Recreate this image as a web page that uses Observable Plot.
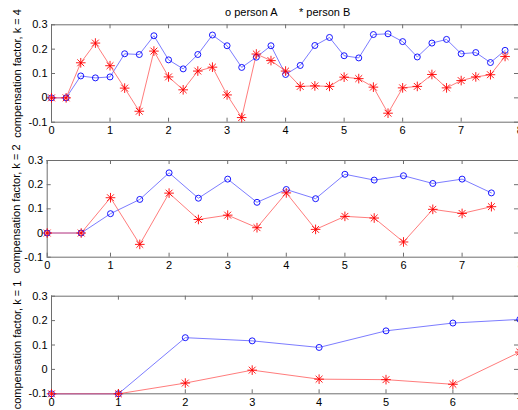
<!DOCTYPE html>
<html><head><meta charset="utf-8">
<script src="https://cdn.jsdelivr.net/npm/d3@7"></script>
<script src="https://cdn.jsdelivr.net/npm/@observablehq/plot@0.6"></script>
<style>
body{margin:0;background:#fff;}
#wrap{position:relative;width:518px;height:410px;overflow:hidden;font-family:"Liberation Sans",Arial,sans-serif;background:#fff;}
.panel{position:absolute;left:0;}
.leg{position:absolute;top:5px;font-size:11px;line-height:14px;white-space:pre;color:#000;z-index:5;}
</style></head><body>
<div id="wrap"></div>
<script>
// ---- data ----
const legendLabels = ["o person A", "* person B"];
const yAxisLabels = ["compensation factor, k = 4", "compensation factor, k = 2", "compensation factor, k = 1"];
const yTickValues = [-0.1, 0, 0.1, 0.2, 0.3];
const yTickLabels = ["-0.1", "0", "0.1", "0.2", "0.3"];
const xTicksK4 = [0, 1, 2, 3, 4, 5, 6, 7, 8];
const xTicksK2 = [0, 1, 2, 3, 4, 5, 6, 7, 8];
const xTicksK1 = [0, 1, 2, 3, 4, 5, 6, 7];

const xK4 = [0,0.25,0.5,0.75,1,1.25,1.5,1.75,2,2.25,2.5,2.75,3,3.25,3.5,3.75,4,4.25,4.5,4.75,5,5.25,5.5,5.75,6,6.25,6.5,6.75,7,7.25,7.5,7.75];
const aK4 = [0,0,0.090,0.082,0.086,0.181,0.178,0.255,0.156,0.119,0.178,0.258,0.214,0.125,0.167,0.214,0.096,0.133,0.215,0.248,0.173,0.164,0.260,0.263,0.231,0.168,0.225,0.240,0.181,0.186,0.145,0.195];
const bK4 = [0,0,0.144,0.225,0.132,0.040,-0.055,0.192,0.086,0.033,0.110,0.126,0.012,-0.081,0.180,0.153,0.110,0.047,0.049,0.047,0.085,0.079,0.044,-0.063,0.041,0.047,0.096,0.041,0.071,0.086,0.095,0.170];

const xK2 = [0,0.5,1,1.5,2,2.5,3,3.5,4,4.5,5,5.5,6,6.5,7,7.5];
const aK2 = [0,0,0.080,0.139,0.249,0.144,0.223,0.127,0.180,0.142,0.243,0.219,0.237,0.205,0.223,0.166];
const bK2 = [0,0,0.146,-0.047,0.165,0.056,0.074,0.022,0.166,0.015,0.069,0.062,-0.037,0.098,0.081,0.109];

const xK1 = [0,1,2,3,4,5,6,7];
const aK1 = [-0.1,-0.1,0.130,0.117,0.090,0.158,0.190,0.205];
const bK1 = [-0.1,-0.1,-0.056,-0.003,-0.040,-0.042,-0.061,0.071];

// ---- drawing ----
const FONT = '"Liberation Sans", Arial, sans-serif';
const W = 518;
const wrap = document.getElementById("wrap");

function panel({xs, a, b, xScale, xStart, xTicks, label, top, height, mt, mb, ml, labelOffset}) {
  const rows = xs.map((x, i) => ({x, a: a[i], b: b[i]}));
  const fh = height - mt - mb;
  const fw = W - ml;
  const tk = 4;
  const axisCol = "#6e6e6e";
  const svg = Plot.plot({
    width: W, height,
    marginTop: mt, marginBottom: mb, marginLeft: ml, marginRight: 0,
    style: {fontFamily: FONT, fontSize: "11px", color: "#000", background: "transparent", overflow: "visible"},
    x: xScale,
    y: {domain: [-0.1, 0.3]},
    marks: [
      // frame
      Plot.ruleY([-0.1, 0.3], {stroke: axisCol, strokeWidth: 1}),
      Plot.ruleX([xStart], {stroke: axisCol, strokeWidth: 1}),
      // inward ticks
      Plot.ruleX(xTicks, {insetTop: fh - tk, stroke: axisCol}),
      Plot.ruleX(xTicks, {insetBottom: fh - tk, stroke: axisCol}),
      Plot.ruleY(yTickValues, {insetRight: fw - tk, stroke: axisCol}),
      Plot.ruleY(yTickValues, {insetLeft: fw - tk, stroke: axisCol}),
      // series
      Plot.line(rows, {x: "x", y: "a", stroke: "#5a5aff", strokeWidth: 0.8}),
      Plot.line(rows, {x: "x", y: "b", stroke: "#ff5a5a", strokeWidth: 0.8}),
      Plot.dot(rows, {x: "x", y: "a", r: 3, stroke: "blue", strokeWidth: 0.9}),
      Plot.dot(rows, {x: "x", y: "b", symbol: "plus", r: 3.2, stroke: "red", strokeWidth: 0.9}),
      Plot.dot(rows, {x: "x", y: "b", symbol: "times", r: 3.2, stroke: "red", strokeWidth: 0.9}),
      // axes
      Plot.axisX(xTicks, {tickSize: 0, tickPadding: 4, tickFormat: d => String(d), fontSize: 11, fill: "#000", label: null}),
      Plot.axisY(yTickValues, {tickSize: 0, tickPadding: 4, fontSize: 11, fill: "#000",
        tickFormat: d => yTickLabels[yTickValues.indexOf(d)],
        label, labelAnchor: "center", labelOffset, labelArrow: "none"})
    ]
  });
  svg.classList.add("panel");
  svg.style.top = top + "px";
  wrap.appendChild(svg);
}

panel({xs: xK4, a: aK4, b: bK4, xScale: {domain: [0, 8], range: [51, 519.2]}, xStart: 0, xTicks: xTicksK4,
  label: yAxisLabels[0], top: 0, height: 140, mt: 24.3, mb: 18.3, ml: 51, labelOffset: 38});
// the reference's middle axis has its first half-step slightly stretched
panel({xs: xK2, a: aK2, b: bK2,
  xScale: {domain: [-0.08, 8], range: [46.7, 520.2], transform: d => d < 0.5 ? 0.5 - (0.5 - d) * 1.16 : d},
  xStart: 0, xTicks: xTicksK2,
  label: yAxisLabels[1], top: 140, height: 140, mt: 20, mb: 23.3, ml: 46.7, labelOffset: 35});
panel({xs: xK1, a: aK1, b: bK1, xScale: {domain: [0, 7], range: [51, 519.3]}, xStart: 0, xTicks: xTicksK1,
  label: yAxisLabels[2], top: 280, height: 130, mt: 15.7, mb: 16.7, ml: 51, labelOffset: 38});

const legA = document.createElement("div");
legA.className = "leg"; legA.style.left = "225px"; legA.textContent = legendLabels[0];
const legB = document.createElement("div");
legB.className = "leg"; legB.style.left = "299px"; legB.textContent = legendLabels[1];
wrap.appendChild(legA); wrap.appendChild(legB);
</script>
</body></html>
